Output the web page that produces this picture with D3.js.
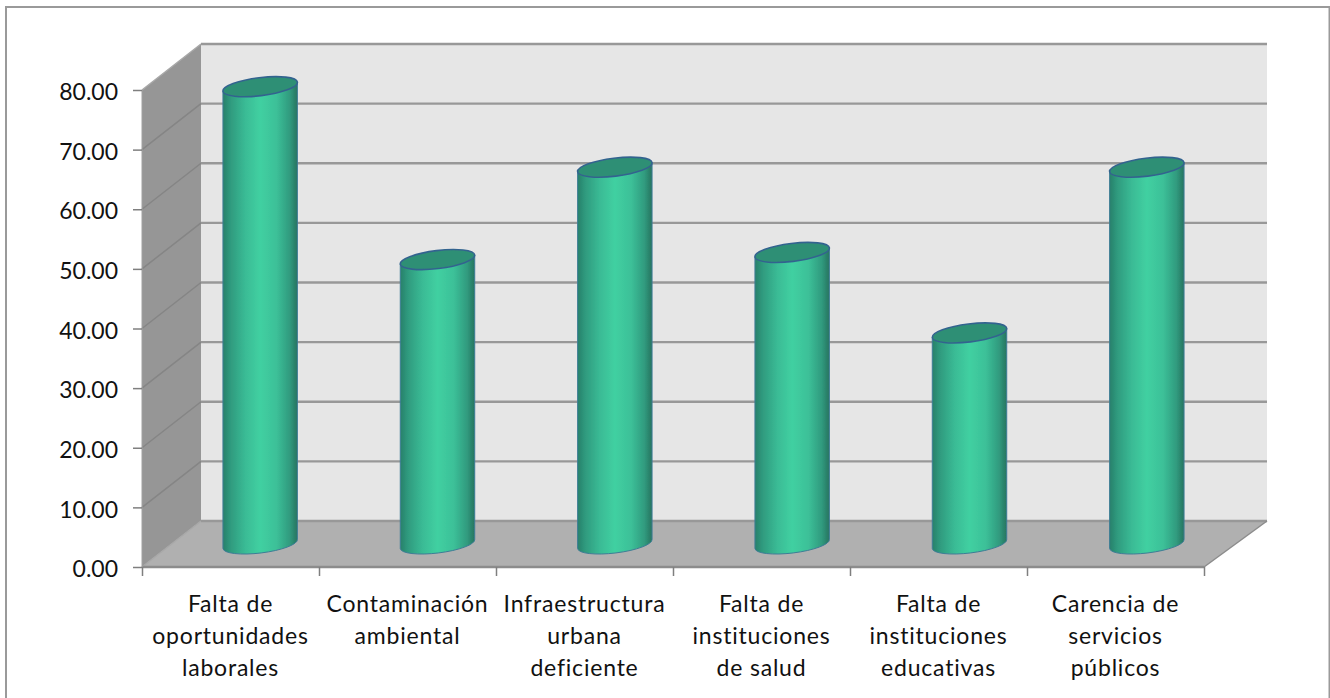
<!DOCTYPE html>
<html>
<head>
<meta charset="utf-8">
<script src="https://cdn.jsdelivr.net/npm/d3@7"></script>
<style>
    html, body { margin: 0; padding: 0; background: #fff; }
    text { font-family: Lato, "Open Sans", sans-serif; fill: #111; }
</style>
</head>
<body>
<div id="chart"></div>
<script>
const categories = [
    ["Falta de", "oportunidades", "laborales"],
    ["Contaminación", "ambiental"],
    ["Infraestructura", "urbana", "deficiente"],
    ["Falta de", "instituciones", "de salud"],
    ["Falta de", "instituciones", "educativas"],
    ["Carencia de", "servicios", "públicos"]
];
const values = [76.7, 47.7, 63.2, 48.9, 35.4, 63.2];
const yTicks = [0, 10, 20, 30, 40, 50, 60, 70, 80];

const width = 1330, height = 698;

// Front plane of the 3D box, the back wall is this shifted by depth
const front = { left: 142, right: 1204, top: 90, bottom: 567 };
const depth = { x: 59, y: -46 };
const backRight = 1267;

const svg = d3.select("#chart").append("svg")
    .attr("width", width)
    .attr("height", height)
    .style("display", "block");

const x = d3.scaleBand()
    .domain(d3.range(categories.length))
    .range([front.left, front.right]);

// Cylinders stand halfway into the box, where the floor is a bit wider
const xMid = d3.scaleBand()
    .domain(d3.range(categories.length))
    .range([front.left + depth.x / 2, (front.right + backRight) / 2]);

const y = d3.scaleLinear()
    .domain([0, 80])
    .range([front.bottom, front.top]);

// Outer frame
svg.append("rect")
    .attr("x", 6).attr("y", 7)
    .attr("width", 1323.5).attr("height", 700)
    .attr("fill", "#fff")
    .attr("stroke", "#9a9a9a")
    .attr("stroke-width", 2);

const defs = svg.append("defs");

const grad = defs.append("linearGradient").attr("id", "cyl");
[[0, "#28806a"], [0.1, "#2f9a7e"], [0.3, "#3abb95"], [0.5, "#41d0a1"], [0.72, "#3cc098"], [0.9, "#309a7e"], [1, "#27745f"]]
    .forEach(s => grad.append("stop").attr("offset", s[0]).attr("stop-color", s[1]));

defs.append("filter").attr("id", "soft")
    .append("feGaussianBlur").attr("stdDeviation", 0.7);

const plot = svg.append("g").attr("filter", "url(#soft)");

// Walls and floor
plot.append("polygon")
    .attr("points", [
        [front.left + depth.x, front.top + depth.y],
        [backRight, front.top + depth.y],
        [backRight, front.bottom + depth.y],
        [front.left + depth.x, front.bottom + depth.y]
    ].join(" "))
    .attr("fill", "#e6e6e6");

plot.append("polygon")
    .attr("points", [
        [front.left, front.top],
        [front.left + depth.x, front.top + depth.y],
        [front.left + depth.x, front.bottom + depth.y],
        [front.left, front.bottom]
    ].join(" "))
    .attr("fill", "#969696");

plot.append("polygon")
    .attr("points", [
        [front.left, front.bottom],
        [front.left + depth.x, front.bottom + depth.y],
        [backRight, front.bottom + depth.y],
        [front.right, front.bottom]
    ].join(" "))
    .attr("fill", "#b0b0b0");

// Gridlines: along the side wall, then along the back wall
plot.append("g").selectAll("line")
    .data(yTicks)
    .join("line")
    .attr("x1", front.left)
    .attr("y1", d => y(d))
    .attr("x2", front.left + depth.x)
    .attr("y2", d => y(d) + depth.y)
    .attr("stroke", d => (d === 80 || d === 0) ? "#a8a8a8" : "#858585")
    .attr("stroke-width", 1.5);

plot.append("g").selectAll("line")
    .data(yTicks)
    .join("line")
    .attr("x1", front.left + depth.x)
    .attr("y1", d => y(d) + depth.y)
    .attr("x2", backRight)
    .attr("y2", d => y(d) + depth.y)
    .attr("stroke", "#989898")
    .attr("stroke-width", 2.4);

// Front edge of the floor and its right side
plot.append("line")
    .attr("x1", front.left).attr("y1", front.bottom)
    .attr("x2", front.right).attr("y2", front.bottom)
    .attr("stroke", "#8c8c8c").attr("stroke-width", 2.4);
plot.append("line")
    .attr("x1", front.right).attr("y1", front.bottom)
    .attr("x2", backRight).attr("y2", front.bottom + depth.y)
    .attr("stroke", "#8c8c8c").attr("stroke-width", 1.5);
plot.append("line")
    .attr("x1", front.left).attr("y1", front.top)
    .attr("x2", front.left).attr("y2", front.bottom)
    .attr("stroke", "#a0a0a0").attr("stroke-width", 1);

// Cylinders
const rx = 37.5, ry = 9, tilt = -7;
const tiltRad = tilt * Math.PI / 180;
const dxEdge = rx * Math.cos(tiltRad), dyEdge = rx * Math.sin(tiltRad);

const bars = plot.append("g").selectAll("g")
    .data(values)
    .join("g")
    .attr("transform", (d, i) => `translate(${xMid(i) + xMid.bandwidth() / 2},${depth.y / 2})`);

bars.append("path")
    .attr("d", d => {
        const top = y(d), base = y(0);
        return `M${-dxEdge},${top - dyEdge}L${dxEdge},${top + dyEdge}L${dxEdge},${base + dyEdge}`
            + `A${rx},${ry} ${tilt} 0 1 ${-dxEdge},${base - dyEdge}Z`;
    })
    .attr("fill", "url(#cyl)")
    .attr("stroke", "#3d7d96")
    .attr("stroke-width", 1);

bars.append("ellipse")
    .attr("rx", rx)
    .attr("ry", ry)
    .attr("transform", d => `translate(0,${y(d)}) rotate(${tilt})`)
    .attr("fill", "#2f8f74")
    .attr("stroke", "#33648f")
    .attr("stroke-width", 1.6);

// Axes
const yAxis = d3.axisLeft(y)
    .tickValues(yTicks)
    .tickFormat(d3.format(".2f"))
    .tickSize(9)
    .tickPadding(15);

const xAxis = d3.axisBottom(d3.scaleLinear().domain([0, categories.length]).range([front.left, front.right]))
    .ticks(categories.length)
    .tickFormat("")
    .tickSize(9);

const gy = svg.append("g")
    .attr("transform", `translate(${front.left},0)`)
    .call(yAxis);
gy.select(".domain").remove();
gy.selectAll("line").attr("stroke", "#7f7f7f").attr("stroke-width", 1.5);
gy.selectAll("text")
    .attr("dy", "0.42em")
    .style("font-size", "23px");

const gx = svg.append("g")
    .attr("transform", `translate(0,${front.bottom})`)
    .call(xAxis);
gx.select(".domain").remove();
gx.selectAll("line").attr("stroke", "#7f7f7f").attr("stroke-width", 1.5);

// Category labels, wrapped by hand as in the original
svg.append("g").selectAll("text")
    .data(categories)
    .join("text")
    .attr("text-anchor", "middle")
    .style("font-size", "23px")
    .style("letter-spacing", "0.8px")
    .each(function (lines, i) {
        d3.select(this).selectAll("tspan")
            .data(lines)
            .join("tspan")
            .attr("x", x(i) + x.bandwidth() / 2)
            .attr("y", (l, k) => 612 + k * 32)
            .text(l => l);
    });
</script>
</body>
</html>
